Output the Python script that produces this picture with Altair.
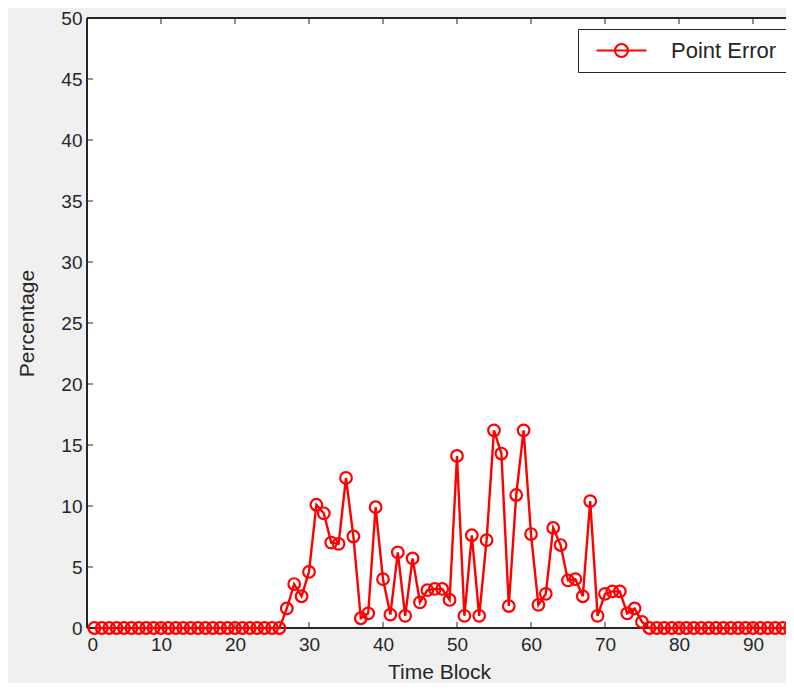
import altair as alt
import pandas as pd

# ---- data ----
time_block = list(range(1, 101))
point_error = [
    0, 0, 0, 0, 0, 0, 0, 0, 0, 0,
    0, 0, 0, 0, 0, 0, 0, 0, 0, 0,
    0, 0, 0, 0, 0, 0,
    1.6, 3.6, 2.6, 4.6, 10.1, 9.4, 7.0, 6.9, 12.3, 7.5,
    0.8, 1.2, 9.9, 4.0, 1.1, 6.2, 1.0, 5.7, 2.1, 3.1,
    3.2, 3.2, 2.3, 14.1, 1.0, 7.6, 1.0, 7.2, 16.2, 14.3,
    1.8, 10.9, 16.2, 7.7, 1.9, 2.8, 8.2, 6.8, 3.9, 4.0,
    2.6, 10.4, 1.0, 2.8, 3.0, 3.0, 1.2, 1.6, 0.5,
    0, 0, 0, 0, 0, 0, 0, 0, 0, 0,
    0, 0, 0, 0, 0, 0, 0, 0, 0, 0,
    0, 0, 0, 0, 0,
]
series_name = "Point Error"
x_ticks = [0, 10, 20, 30, 40, 50, 60, 70, 80, 90]
y_ticks = [0, 5, 10, 15, 20, 25, 30, 35, 40, 45, 50]

df = pd.DataFrame({"t": time_block, "v": point_error, "s": series_name})
xt = pd.DataFrame({"t": x_ticks})
yt = pd.DataFrame({"v": y_ticks})

W, H = 699, 610
FONT = "Liberation Sans"
TXT = "#262626"

xscale = alt.Scale(domain=[0, 94.46], nice=False, zero=False)
yscale = alt.Scale(domain=[0, 50], nice=False)

# legend glyph: line with an open circle (unit = 10 px)
legend_path = ("M-0.3,0L4.7,0"
               "M2.85,0A0.65,0.65,0,1,1,1.55,0A0.65,0.65,0,1,1,2.85,0")

line = alt.Chart(df).mark_line(strokeWidth=2.4, clip=False).encode(
    x=alt.X("t:Q", scale=xscale,
            axis=alt.Axis(values=x_ticks, title="Time Block", grid=False, domain=False,
                          tickSize=0, labelPadding=7, labelFontSize=19,
                          titleFontSize=21, titleFontWeight="normal",
                          titleX=352, titleY=50, titleAlign="center",
                          titleBaseline="alphabetic")),
    y=alt.Y("v:Q", scale=yscale,
            axis=alt.Axis(values=y_ticks, title="Percentage", grid=False, domain=False,
                          tickSize=0, labelPadding=5, labelFontSize=19,
                          titleFontSize=21, titleFontWeight="normal",
                          titleX=-60, titleY=305, titleAngle=270,
                          titleBaseline="middle", titleAlign="center")),
    color=alt.Color("s:N", scale=alt.Scale(domain=[series_name], range=["#ff0000"]),
                    legend=alt.Legend(title=None, orient="none", legendX=491, legendY=11,
                                      fillColor="white", strokeColor=TXT, padding=10,
                                      labelFontSize=22, labelFont=FONT, labelColor=TXT,
                                      symbolType=legend_path, symbolSize=400,
                                      symbolStrokeWidth=2.2, symbolFillColor="transparent",
                                      symbolStrokeColor="#ff0000", labelOffset=60)),
)

points = alt.Chart(df).mark_point(shape="circle", filled=False, size=135,
                                  strokeWidth=2.2, color="#ff0000", opacity=1,
                                  clip=False).encode(
    x=alt.X("t:Q", scale=xscale),
    y=alt.Y("v:Q", scale=yscale),
)

tick_style = dict(color=TXT, strokeWidth=1)
xt_bottom = alt.Chart(xt).mark_rule(**tick_style).encode(
    x=alt.X("t:Q", scale=xscale), y=alt.value(H), y2=alt.value(H - 6))
xt_top = alt.Chart(xt).mark_rule(**tick_style).encode(
    x=alt.X("t:Q", scale=xscale), y=alt.value(0), y2=alt.value(6))
yt_left = alt.Chart(yt).mark_rule(**tick_style).encode(
    y=alt.Y("v:Q", scale=yscale), x=alt.value(0), x2=alt.value(6))

# axes box (top, left, bottom); the right side lies past the page edge
border_top = alt.Chart(xt).mark_rule(**tick_style).encode(
    x=alt.value(0), x2=alt.value(W), y=alt.value(0))
border_bottom = alt.Chart(xt).mark_rule(**tick_style).encode(
    x=alt.value(0), x2=alt.value(W), y=alt.value(H))
border_left = alt.Chart(yt).mark_rule(**tick_style).encode(
    x=alt.value(0), y=alt.value(0), y2=alt.value(H))

chart = alt.layer(border_top, border_bottom, border_left,
                  xt_bottom, xt_top, yt_left, line, points).properties(
    width=W, height=H,
    autosize=alt.AutoSizeParams(type="none"),
    padding={"left": 79, "top": 10, "right": 0, "bottom": 55},
    background="#f0f0f0",
).configure_view(
    fill="white", stroke="transparent",
).configure_axis(
    labelFont=FONT, titleFont=FONT, labelColor=TXT, titleColor=TXT,
)

chart.save("out.html", embed_options={"renderer": "svg", "actions": False})
